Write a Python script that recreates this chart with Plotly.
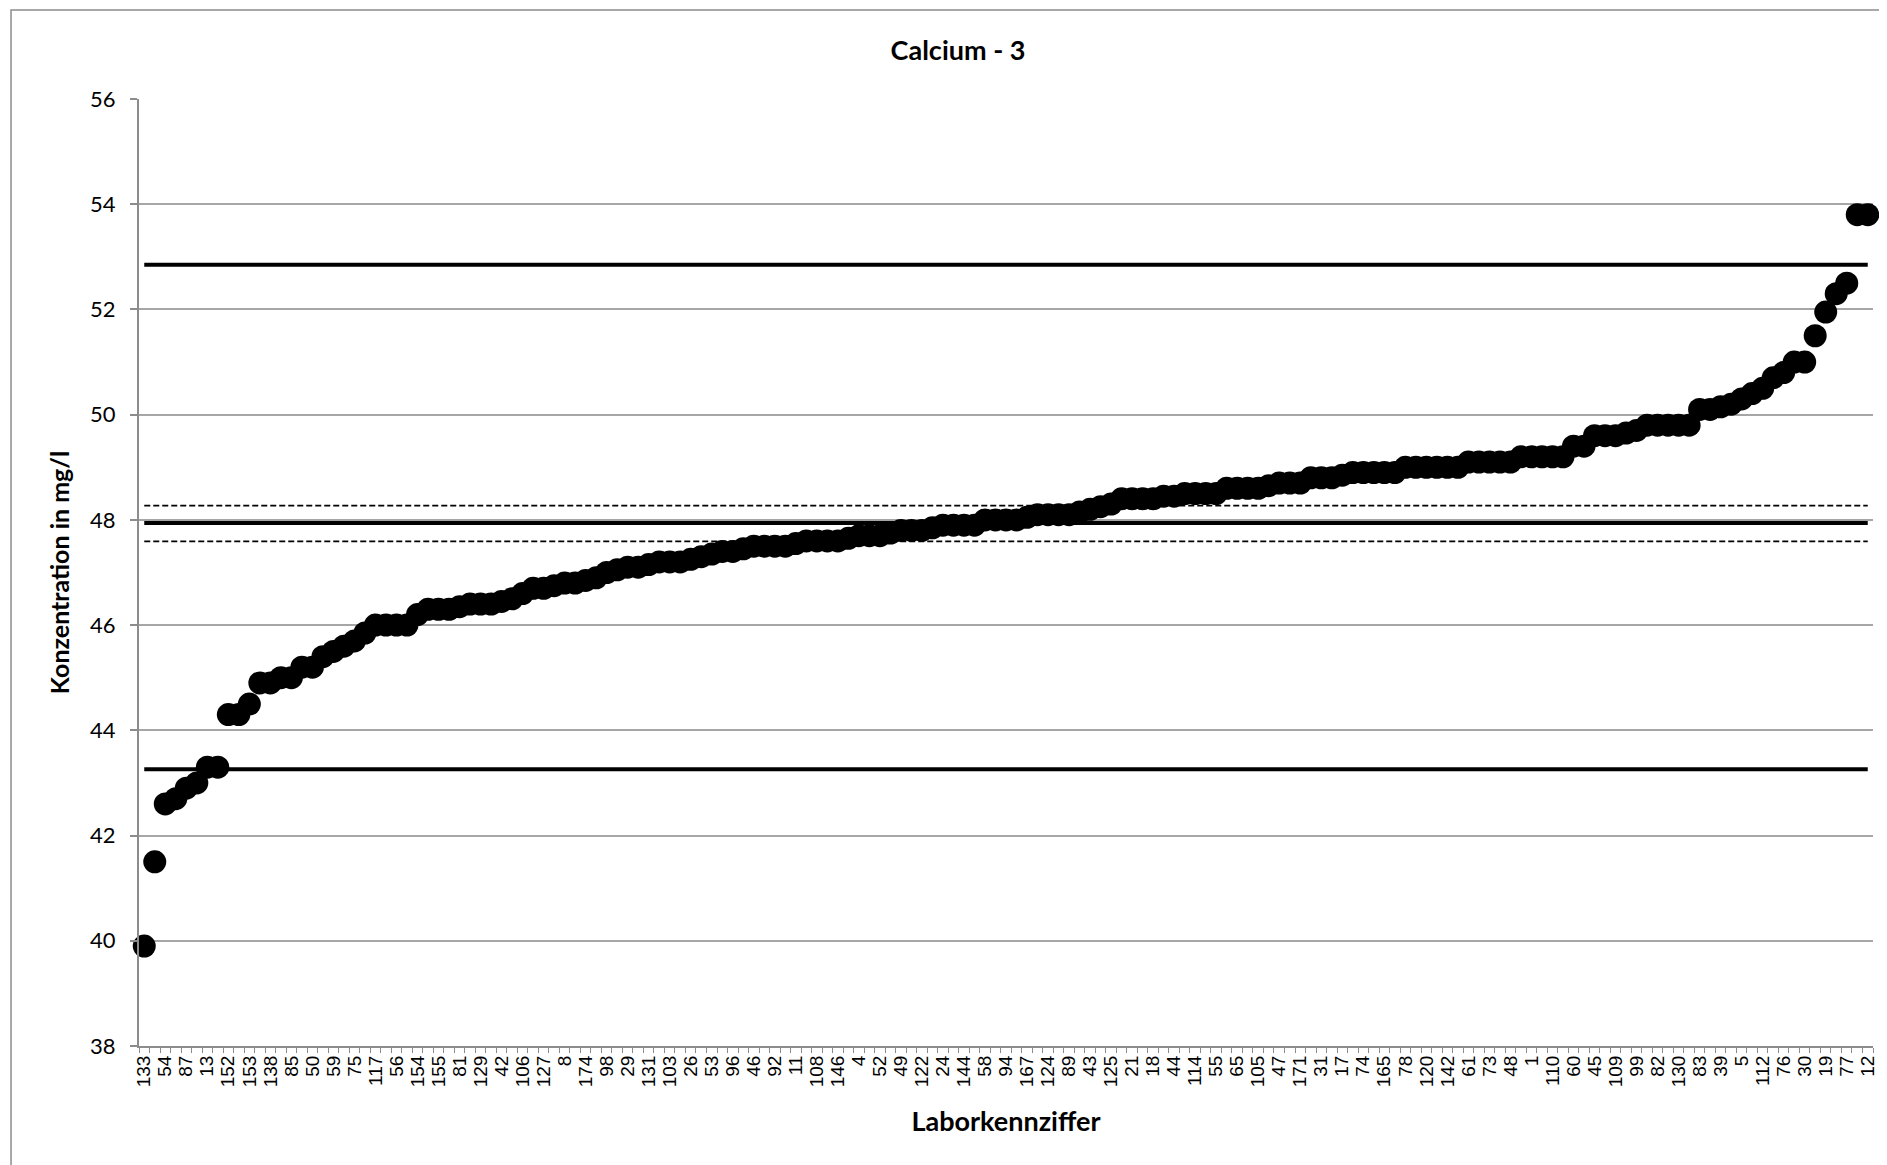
import plotly.graph_objects as go

labs = ["133","54","87","13","152","153","138","85","50","59","75","117","56","154","155","81","129","42","106","127","8",
        "174","98","29","131","103","26","53","96","46","92","11","108","146","4","52","49","122","24","144","58",
        "94","167","124","89","43","125","21","18","44","114","55","65","105","47","171","31","17","74","165","78","120",
        "142","61","73","48","1","110","60","45","109","99","82","130","83","39","5","112","76","30","19","77","12"]

values = [39.9, 41.5, 42.6, 42.7, 42.9, 43.0, 43.3, 43.3, 44.3, 44.3,
          44.5, 44.9, 44.9, 45.0, 45.0, 45.2, 45.2, 45.4, 45.5, 45.6,
          45.7, 45.85, 46.0, 46.0, 46.0, 46.0, 46.2, 46.3, 46.3, 46.3,
          46.35, 46.4, 46.4, 46.4, 46.45, 46.5, 46.6, 46.7, 46.7, 46.75,
          46.8, 46.8, 46.85, 46.9, 47.0, 47.05, 47.1, 47.1, 47.15, 47.2,
          47.2, 47.2, 47.25, 47.3, 47.35, 47.4, 47.4, 47.45, 47.5, 47.5,
          47.5, 47.5, 47.55, 47.6, 47.6, 47.6, 47.6, 47.65, 47.7, 47.7,
          47.7, 47.75, 47.8, 47.8, 47.8, 47.85, 47.9, 47.9, 47.9, 47.9,
          48.0, 48.0, 48.0, 48.0, 48.05, 48.1, 48.1, 48.1, 48.1, 48.15,
          48.2, 48.25, 48.3, 48.4, 48.4, 48.4, 48.4, 48.45, 48.45, 48.5,
          48.5, 48.5, 48.5, 48.6, 48.6, 48.6, 48.6, 48.65, 48.7, 48.7,
          48.7, 48.8, 48.8, 48.8, 48.85, 48.9, 48.9, 48.9, 48.9, 48.9,
          49.0, 49.0, 49.0, 49.0, 49.0, 49.0, 49.1, 49.1, 49.1, 49.1,
          49.1, 49.2, 49.2, 49.2, 49.2, 49.2, 49.4, 49.4, 49.6, 49.6,
          49.6, 49.65, 49.7, 49.8, 49.8, 49.8, 49.8, 49.8, 50.1, 50.1,
          50.15, 50.2, 50.3, 50.4, 50.5, 50.7, 50.8, 51.0, 51.0, 51.5,
          51.95, 52.3, 52.5, 53.8, 53.8]

n = len(values)
cats = list(range(1, n + 1))
label_pos = cats[::2]

upper_limit = 52.85
mean_value = 47.94
mean_upper = 48.27
mean_lower = 47.59
lower_limit = 43.26

fig = go.Figure()

for val, w, dash in [(upper_limit, 4, "solid"), (lower_limit, 4, "solid"),
                     (mean_value, 4, "solid"), (mean_upper, 1.8, "6px,3px"),
                     (mean_lower, 1.8, "6px,3px")]:
    fig.add_trace(go.Scatter(x=cats, y=[val] * n, mode="lines",
                             line=dict(color="black", width=w, dash=dash),
                             showlegend=False, hoverinfo="skip"))

fig.add_trace(go.Scatter(x=cats, y=values, mode="markers", cliponaxis=False,
                         marker=dict(color="black", size=23, line=dict(width=0)),
                         showlegend=False))

fig.update_layout(
    width=1879, height=1157,
    margin=dict(l=131, r=9, t=91, b=119),
    paper_bgcolor="white", plot_bgcolor="white",
    title=dict(text="<b>Calcium - 3</b>", x=0.5056, xanchor="center", y=0.963, yanchor="middle",
               font=dict(family="Lato, Open Sans, sans-serif", size=27, color="black")),
    shapes=[dict(type="rect", xref="paper", yref="paper", x0=-0.0738, x1=1.02, y0=-0.2, y1=1.094,
                 line=dict(color="#8c8c8c", width=1.5), layer="below")],
)

fig.update_xaxes(
    range=[0.5, n + 0.5],
    tickmode="array", tickvals=label_pos, ticktext=labs,
    tickangle=-90, ticks="", tickfont=dict(family="Liberation Sans, Arial, sans-serif", size=19, color="black"),
    showgrid=False, zeroline=False,
    showline=True, linecolor="#8c8c8c", linewidth=2,
    minor=dict(tickmode="linear", tick0=0.5, dtick=1, ticks="outside", ticklen=5,
               tickcolor="#8c8c8c", tickwidth=1, showgrid=False),
    title=dict(text="<b>Laborkennziffer</b>", standoff=26,
               font=dict(family="Lato, Open Sans, sans-serif", size=27, color="black")),
)

fig.update_yaxes(
    range=[38, 56], tick0=38, dtick=2,
    ticks="outside", ticklen=7, tickcolor="#8c8c8c", tickwidth=1.5,
    ticklabelstandoff=10,
    tickfont=dict(family="Lato, Open Sans, sans-serif", size=22, color="black"),
    showgrid=True, gridcolor="#a6a6a6", gridwidth=1.5,
    zeroline=False, showline=True, linecolor="#8c8c8c", linewidth=2, mirror=False,
    title=dict(text="<b>Konzentration in mg/l</b>", standoff=13,
               font=dict(family="Lato, Open Sans, sans-serif", size=25, color="black")),
)

fig.write_html("out.html")
